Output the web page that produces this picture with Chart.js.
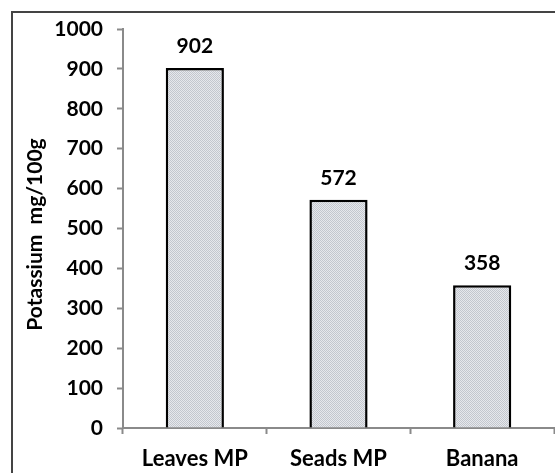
<!DOCTYPE html>
<html>
<head>
<meta charset="utf-8">
<script src="https://cdn.jsdelivr.net/npm/chart.js@4.4.1/dist/chart.umd.min.js"></script>
<style>
  html, body { margin: 0; padding: 0; background: #fff; }
  body { width: 555px; height: 473px; position: relative; overflow: hidden; }
  #frame { position: absolute; left: 11px; top: 11px; width: 700px; height: 700px;
           border-left: 2px solid #444; border-top: 2px solid #444; }
  #wrap { position: absolute; left: 0; top: 0; width: 555px; height: 473px; }
</style>
</head>
<body>
<div id="frame"></div>
<div id="wrap"><canvas id="c" width="555" height="473"></canvas></div>
<script>
const categories = ["Leaves MP", "Seads MP", "Banana"];
const potassium = [902, 572, 358];
const yTicks = [0, 100, 200, 300, 400, 500, 600, 700, 800, 900, 1000];
const yTitle = "Potassium  mg/100g";

function makePattern() {
  const p = document.createElement('canvas');
  p.width = 2; p.height = 2;
  const g = p.getContext('2d');
  g.fillStyle = '#e6e8ec'; g.fillRect(0, 0, 2, 2);
  g.fillStyle = '#c3c7ce'; g.fillRect(0, 0, 1, 1); g.fillRect(1, 1, 1, 1);
  return g.createPattern(p, 'repeat');
}

const FONT = "Lato, 'Open Sans', sans-serif";

const valueLabels = {
  id: 'valueLabels',
  afterDatasetsDraw(chart) {
    const ctx = chart.ctx;
    const meta = chart.getDatasetMeta(0);
    ctx.save();
    ctx.font = "bold 21px " + FONT;
    ctx.fillStyle = '#000';
    ctx.textAlign = 'center';
    ctx.textBaseline = 'middle';
    meta.data.forEach((bar, i) => {
      ctx.fillText(String(chart.data.datasets[0].data[i]), bar.x, bar.y - 22);
    });
    ctx.restore();
  }
};

const axisTitle = {
  id: 'axisTitle',
  afterDraw(chart) {
    const ctx = chart.ctx;
    const area = chart.chartArea;
    ctx.save();
    ctx.translate(35, (area.top + area.bottom) / 2 + 6);
    ctx.rotate(-Math.PI / 2);
    ctx.font = "bold 21px " + FONT;
    ctx.fillStyle = '#000';
    ctx.textAlign = 'center';
    ctx.textBaseline = 'middle';
    ctx.fillText(yTitle, 0, 0);
    ctx.restore();
  }
};

new Chart(document.getElementById('c'), {
  type: 'bar',
  data: {
    labels: categories,
    datasets: [{
      data: potassium,
      backgroundColor: makePattern(),
      borderColor: '#000',
      borderWidth: 2.5,
      borderSkipped: 'bottom',
      categoryPercentage: 1,
      barPercentage: 0.405
    }]
  },
  options: {
    responsive: false,
    animation: false,
    devicePixelRatio: 1,
    layout: { padding: { left: 0, right: 1, top: 29, bottom: 0 } },
    plugins: { legend: { display: false }, tooltip: { enabled: false } },
    scales: {
      x: {
        offset: true,
        afterFit(scale) { scale.height = 45; },
        grid: { display: true, drawOnChartArea: false, offset: true, tickLength: 6, tickColor: '#8a8a8a', tickWidth: 2 },
        border: { display: true, color: '#8a8a8a', width: 2 },
        ticks: { color: '#000', padding: 12, font: { family: FONT, size: 22, weight: 'bold' } }
      },
      y: {
        min: 0, max: 1000,
        afterBuildTicks(scale) { scale.ticks = yTicks.map(v => ({ value: v })); },
        afterFit(scale) { scale.width = 123; },
        grid: { display: true, drawOnChartArea: false, tickLength: 6, tickColor: '#8a8a8a', tickWidth: 2 },
        border: { display: true, color: '#8a8a8a', width: 2 },
        ticks: { color: '#000', padding: 14, font: { family: FONT, size: 21, weight: 'bold' },
                 callback: (v) => String(v) },
        title: { display: false }
      }
    }
  },
  plugins: [valueLabels, axisTitle]
});
</script>
</body>
</html>
